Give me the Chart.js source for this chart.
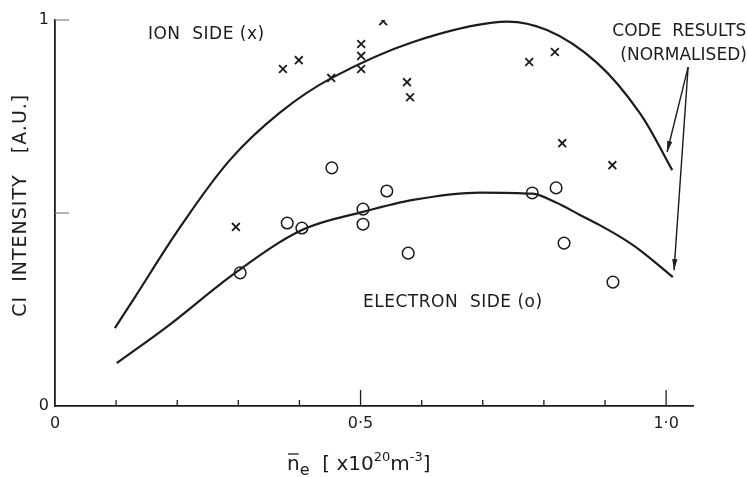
<!DOCTYPE html>
<html>
<head>
<meta charset="utf-8">
<script src="https://cdn.jsdelivr.net/npm/chart.js@4/dist/chart.umd.min.js"></script>
<style>
  html, body { margin: 0; padding: 0; background: #ffffff; }
  #wrap { position: relative; width: 747px; height: 477px; }
</style>
</head>
<body>
<div id="wrap"><canvas id="c" width="747" height="477"></canvas></div>
<script>
// ---- data ----
const ionX  = [0.296, 0.373, 0.399, 0.452, 0.501, 0.501, 0.501, 0.537, 0.576, 0.581, 0.776, 0.818, 0.830, 0.912];
const ionY  = [0.464, 0.873, 0.896, 0.850, 0.938, 0.907, 0.873, 0.997, 0.839, 0.800, 0.891, 0.917, 0.681, 0.624];
const elecX = [0.303, 0.380, 0.404, 0.453, 0.504, 0.504, 0.543, 0.578, 0.781, 0.820, 0.833, 0.913];
const elecY = [0.345, 0.474, 0.461, 0.617, 0.510, 0.471, 0.557, 0.396, 0.552, 0.565, 0.422, 0.321];

const ionCodeX  = [0.098, 0.128, 0.205, 0.286, 0.368, 0.453, 0.586, 0.728, 0.805, 0.887, 0.957, 1.010];
const ionCodeY  = [0.202, 0.275, 0.464, 0.637, 0.760, 0.850, 0.943, 0.995, 0.974, 0.889, 0.759, 0.611];
const elecCodeX = [0.101, 0.183, 0.295, 0.404, 0.504, 0.586, 0.696, 0.781, 0.820, 0.859, 0.892, 0.925, 0.957, 1.011];
const elecCodeY = [0.111, 0.205, 0.345, 0.456, 0.503, 0.534, 0.553, 0.550, 0.527, 0.495, 0.468, 0.438, 0.404, 0.334];

const xTickValues = [0, 0.5, 1.0];
const xTickLabels = ['0', '0·5', '1·0'];
const yTickValues = [0, 0.5, 1];
const yTickLabels = ['0', '', '1'];
const xMinorTicks = [0.1, 0.2, 0.3, 0.4, 0.6, 0.7, 0.8, 0.9];
const xMajorTicks = [0.5, 1.0];
const yInnerTicks = [0.5, 1];

const INK = '#1c1c1c';
const FONT = '"DejaVu Sans", "Liberation Sans", sans-serif';

const pts = (xs, ys) => xs.map((x, i) => ({ x: x, y: ys[i] }));

const decor = {
  id: 'decor',
  afterDatasetsDraw(chart) {
    const ctx = chart.ctx;
    const xs = chart.scales.x, ys = chart.scales.y;
    const X = v => xs.getPixelForValue(v), Y = v => ys.getPixelForValue(v);
    const base = Y(0), left = X(0);
    ctx.save();
    ctx.strokeStyle = INK;
    ctx.lineWidth = 1.3;
    // inward x ticks
    xMinorTicks.forEach(v => { ctx.beginPath(); ctx.moveTo(X(v), base); ctx.lineTo(X(v), base - 6); ctx.stroke(); });
    xMajorTicks.forEach(v => { ctx.beginPath(); ctx.moveTo(X(v), base); ctx.lineTo(X(v), base - 16); ctx.stroke(); });
    ctx.strokeStyle = '#8a8a8a';
    yInnerTicks.forEach(v => { ctx.beginPath(); ctx.moveTo(left, Y(v)); ctx.lineTo(left + 14, Y(v)); ctx.stroke(); });

    // annotations
    ctx.fillStyle = INK;
    ctx.textBaseline = 'middle';
    ctx.textAlign = 'left';
    ctx.font = '17px ' + FONT;
    ctx.letterSpacing = '0.5px';
    ctx.fillText('ION  SIDE (x)', X(0.152), Y(0.961));
    ctx.fillText('ELECTRON  SIDE (o)', X(0.504), Y(0.269));
    ctx.letterSpacing = '0px';
    ctx.fillText('CODE  RESULTS', X(0.912), Y(0.969));
    ctx.fillText('(NORMALISED)', X(0.925), Y(0.909));

    // arrows
    const arrow = (x0, y0, x1, y1) => {
      const ax = X(x0), ay = Y(y0), bx = X(x1), by = Y(y1);
      ctx.strokeStyle = INK; ctx.lineWidth = 1.4;
      ctx.beginPath(); ctx.moveTo(ax, ay); ctx.lineTo(bx, by); ctx.stroke();
      const ang = Math.atan2(by - ay, bx - ax), L = 11, W = 2.6;
      ctx.beginPath();
      ctx.moveTo(bx, by);
      ctx.lineTo(bx - L * Math.cos(ang) + W * Math.sin(ang), by - L * Math.sin(ang) - W * Math.cos(ang));
      ctx.lineTo(bx - L * Math.cos(ang) - W * Math.sin(ang), by - L * Math.sin(ang) + W * Math.cos(ang));
      ctx.closePath(); ctx.fill();
    };
    arrow(1.036, 0.878, 1.0016, 0.658);
    arrow(1.036, 0.878, 1.013, 0.352);

    // y axis title
    ctx.save();
    ctx.translate(21, Y(0.52));
    ctx.rotate(-Math.PI / 2);
    ctx.textAlign = 'center';
    ctx.font = '19px ' + FONT;
    ctx.letterSpacing = '1px';
    ctx.fillText('CI  INTENSITY   [A.U.]', 0, 0);
    ctx.restore();

    // x axis title with overline, subscript and superscripts
    ctx.textAlign = 'left';
    ctx.textBaseline = 'alphabetic';
    ctx.letterSpacing = '0px';
    let cx = 287; const bl = 470;
    const seg = (t, size, dy) => { ctx.font = size + 'px ' + FONT; ctx.fillText(t, cx, bl + dy); const w = ctx.measureText(t).width; cx += w; return w; };
    const nx = cx;
    const nw = seg('n', 20, 0);
    ctx.lineWidth = 1.3; ctx.strokeStyle = INK;
    ctx.beginPath(); ctx.moveTo(nx + 1, bl - 16); ctx.lineTo(nx + nw - 1, bl - 16); ctx.stroke();
    seg('e', 16, 5);
    seg('  [ x10', 20, 0);
    seg('20', 13, -9);
    seg('m', 20, 0);
    seg('-3', 13, -9);
    seg(']', 20, 0);
    ctx.restore();
  }
};

new Chart(document.getElementById('c'), {
  type: 'scatter',
  data: {
    datasets: [
      { type: 'line', label: 'Code (ion)', data: pts(ionCodeX, ionCodeY), borderColor: INK, borderWidth: 2.2,
        pointRadius: 0, fill: false, tension: 0.35 },
      { type: 'line', label: 'Code (electron)', data: pts(elecCodeX, elecCodeY), borderColor: INK, borderWidth: 2.2,
        pointRadius: 0, fill: false, cubicInterpolationMode: 'monotone' },
      { label: 'Ion side', data: pts(ionX, ionY), pointStyle: 'crossRot', pointRadius: 5.5,
        borderColor: INK, backgroundColor: INK, pointBorderWidth: 1.8 },
      { label: 'Electron side', data: pts(elecX, elecY), pointStyle: 'circle', pointRadius: 5.8,
        borderColor: INK, backgroundColor: 'rgba(0,0,0,0)', pointBorderWidth: 1.5 }
    ]
  },
  options: {
    responsive: false,
    animation: false,
    events: [],
    layout: { padding: { top: 20, right: 54, bottom: 0, left: 0 } },
    plugins: { legend: { display: false }, tooltip: { enabled: false } },
    scales: {
      x: {
        type: 'linear', min: 0, max: 1.044,
        afterFit: s => { s.height = 71; },
        afterBuildTicks: s => { s.ticks = xTickValues.map(v => ({ value: v })); },
        grid: { display: false, drawTicks: false },
        border: { display: true, color: INK, width: 1.8 },
        ticks: { autoSkip: false, maxRotation: 0, padding: 8, color: INK,
          font: { family: FONT, size: 16 },
          callback: (v) => { const i = xTickValues.indexOf(v); return i >= 0 ? xTickLabels[i] : ''; } }
      },
      y: {
        type: 'linear', min: 0, max: 1,
        afterFit: s => { s.width = 55; },
        afterBuildTicks: s => { s.ticks = yTickValues.map(v => ({ value: v })); },
        grid: { display: false, drawTicks: false },
        border: { display: true, color: INK, width: 1.8 },
        ticks: { autoSkip: false, padding: 6, color: INK,
          font: { family: FONT, size: 16 },
          callback: (v) => { const i = yTickValues.indexOf(v); return i >= 0 ? yTickLabels[i] : ''; } }
      }
    }
  },
  plugins: [decor]
});
</script>
</body>
</html>
